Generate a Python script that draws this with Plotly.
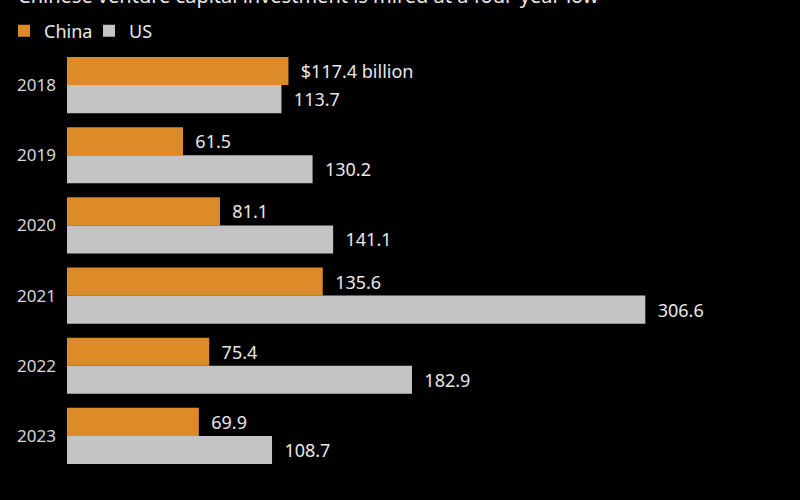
import plotly.graph_objects as go

years = ["2018", "2019", "2020", "2021", "2022", "2023"]
china = [117.4, 61.5, 81.1, 135.6, 75.4, 69.9]
us = [113.7, 130.2, 141.1, 306.6, 182.9, 108.7]
china_labels = ["$117.4 billion", "61.5", "81.1", "135.6", "75.4", "69.9"]
us_labels = ["113.7", "130.2", "141.1", "306.6", "182.9", "108.7"]

FONT = "Noto Sans"
TXT = "#e8e8e8"
PAD = "\u00a0\u00a0"

fig = go.Figure()
fig.add_trace(go.Bar(
    name="China", y=years, x=china, orientation="h",
    marker=dict(color="#DD8A28", line=dict(width=0)),
    text=china_labels, texttemplate=PAD + "%{text}",
    textposition="outside", cliponaxis=False,
    textfont=dict(color=TXT, size=18, family=FONT),
))
fig.add_trace(go.Bar(
    name="US", y=years, x=us, orientation="h",
    marker=dict(color="#C4C4C4", line=dict(width=0)),
    text=us_labels, texttemplate=PAD + "%{text}",
    textposition="outside", cliponaxis=False,
    textfont=dict(color=TXT, size=18, family=FONT),
))

fig.update_layout(
    width=800, height=500,
    paper_bgcolor="black", plot_bgcolor="black",
    barmode="group", bargap=0.2, bargroupgap=0,
    margin=dict(l=67, r=20, t=50, b=29, autoexpand=False),
    font=dict(family=FONT, color=TXT, size=16),
    showlegend=True,
    legend=dict(
        orientation="h", xref="container", yref="container",
        x=0.005, xanchor="left", y=1 - 31 / 500, yanchor="middle",
        font=dict(size=18, color=TXT, family="Liberation Sans Narrow, " + FONT),
        bgcolor="rgba(0,0,0,0)", itemwidth=30, traceorder="normal",
        entrywidth=40, entrywidthmode="pixels",
    ),
    uniformtext=dict(mode=False),
    title=dict(
        text="Chinese venture capital investment is mired at a four-year low",
        xref="container", yref="container", x=18 / 800, xanchor="left",
        y=1 - 3 / 500, yanchor="bottom", pad=dict(t=0, b=0, l=0, r=0),
        font=dict(size=20, color=TXT, family=FONT),
    ),
)
fig.update_xaxes(range=[0, 378], visible=False, showgrid=False, zeroline=False)
fig.update_yaxes(
    autorange="reversed", showgrid=False, zeroline=False, showline=False,
    ticks="", ticklabelstandoff=10, automargin=False,
    tickfont=dict(size=17, color="#d8d8d8", family=FONT),
)

fig.write_html(
    "out.html",
    config={"displayModeBar": False},
    post_script="document.body.style.margin='0';document.body.style.background='black';",
)
